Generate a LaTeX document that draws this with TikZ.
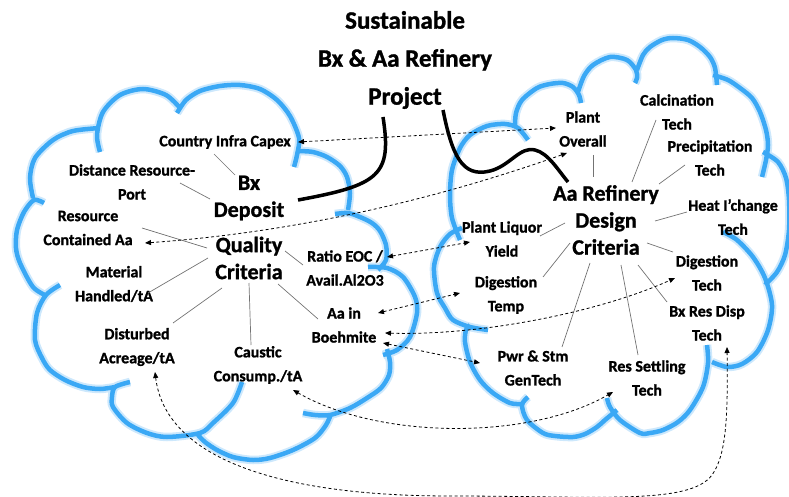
\documentclass[tikz,border=0pt]{standalone}
\usepackage{fontspec}
\setmainfont{Carlito}[BoldFeatures={FakeBold=1.2}]
\usetikzlibrary{calc,arrows.meta}
\definecolor{cloudblue}{RGB}{58,168,245}
\definecolor{cloudglow}{RGB}{205,232,252}

% outlines of the two clouds, one smooth arc per bump
\newcommand\cloudarcs[1]{%
  % left cloud
  \path[#1] plot[smooth] coordinates {(44,203) (34,200) (24,212) (17,230) (16,248) (20,263) (33,287) (47,296)}
            plot[smooth] coordinates {(33,198) (30,178) (35,158) (53,140) (73,131) (100,128)}
            plot[smooth] coordinates {(100,152) (97,135) (103,112) (120,95) (143,89) (166,95) (180,108)}
            plot[smooth] coordinates {(177,113) (186,100) (200,91) (220,86) (240,85) (260,89) (277,100) (290,116) (299,138) (297,155) (294,167)}
            plot[smooth] coordinates {(298,151) (313,152) (327,157) (340,166) (347,177) (350,193) (348,210)}
            plot[smooth] coordinates {(335,214) (348,213) (360,217) (372,223) (380,231) (386,245) (386,260) (378,270)}
            plot[smooth] coordinates {(368,267) (387,268) (403,277) (415,297) (417,313) (410,337) (397,350) (383,355)}
            plot[smooth] coordinates {(387,349) (390,362) (389,375) (381,388) (367,398) (350,408) (330,415) (315,415) (303,413)}
            plot[smooth] coordinates {(331,414) (326,425) (315,438) (293,450) (270,458) (253,460) (233,457) (217,450) (205,442) (198,435)}
            plot[smooth] coordinates {(242,382) (233,403) (213,423) (200,433) (167,437) (147,433) (127,423) (113,407) (112,397) (115,387) (130,382)}
            plot[smooth] coordinates {(60,285) (46,295) (37,313) (35,340) (42,358) (50,370) (65,380) (83,387) (100,389) (115,387)};
  % right cloud
  \path[#1] plot[smooth] coordinates {(460,240) (452,218) (450,195) (452,170) (460,148) (470,135) (487,126) (505,124) (518,128) (528,140)}
            plot[smooth] coordinates {(515,126) (516,113) (522,100) (537,88) (550,84) (563,83) (573,87) (579,95) (581,103)}
            plot[smooth] coordinates {(578,92) (584,76) (593,65) (610,57) (627,60) (636,70) (637,78) (635,83)}
            plot[smooth] coordinates {(637,70) (643,55) (650,47) (662,40) (673,38) (688,40) (700,47) (710,57) (715,68) (717,85)}
            plot[smooth] coordinates {(713,75) (728,80) (740,88) (752,98) (760,112) (766,130) (768,145) (766,160) (762,177)}
            plot[smooth] coordinates {(763,152) (778,162) (786,178) (789,200) (789,230) (785,255) (777,272) (765,285)}
            plot[smooth] coordinates {(723,232) (737,240) (753,257) (765,278) (772,305) (768,330) (757,352) (742,364) (727,367) (712,362)}
            plot[smooth] coordinates {(707,345) (708,363) (703,387) (690,410) (678,422) (663,430) (650,433) (640,433) (620,420) (610,407) (607,398)}
            plot[smooth] coordinates {(617,410) (605,420) (597,427) (585,434) (573,437) (555,436) (543,433) (527,420) (522,405) (528,397)}
            plot[smooth] coordinates {(522,404) (510,403) (493,393) (480,380) (470,362) (465,342) (466,330) (470,325)}
            plot[smooth] coordinates {(462,228) (450,234) (440,247) (434,267) (437,293) (445,308) (453,320) (470,327) (488,330)};
}

\begin{document}
\begin{tikzpicture}[x=1pt,y=-1pt,
  lbl/.style={align=center, inner sep=0pt, font=\bfseries\fontsize{16}{24}\selectfont},
  hub/.style={align=center, inner sep=0pt, font=\bfseries\fontsize{22}{27}\selectfont},
  ttl/.style={align=center, inner sep=0pt, font=\bfseries\fontsize{25}{38}\selectfont},
  rim/.style={draw=cloudblue, line width=4.5pt},
  halo/.style={draw=cloudglow, line width=8.5pt},
  spoke/.style={draw=black!55, line width=0.7pt},
  link/.style={draw=black, line width=0.8pt, dash pattern=on 3pt off 2.5pt,
    {Triangle[width=5pt,length=6pt]}-{Triangle[width=5pt,length=6pt]}},
  stem/.style={draw=black, line width=3.5pt},
]
\useasboundingbox (0,0) rectangle (789,497);

% clouds
\cloudarcs{halo}
\cloudarcs{rim}

% title
\node[ttl] (ttl) at (405,60) {Sustainable\\Bx \& Aa Refinery\\Project};

% left cloud labels
\node[lbl] (cic) at (225,142) {Country Infra Capex};
\node[lbl] (drp) at (132,182) {Distance Resource-\\Port};
\node[lbl] (rca) at (88,228) {Resource\\Contained Aa};
\node[hub] (bxd) at (249,198) {Bx\\Deposit};
\node[hub] (qc) at (249,258) {Quality\\Criteria};
\node[lbl] (mat) at (114,284) {Material\\Handled/tA};
\node[lbl] (dis) at (137,347) {Disturbed\\Acreage/tA};
\node[lbl] (cau) at (258,365) {Caustic\\Consump./tA};
\node[lbl] (aab) at (344,325) {Aa in\\Boehmite};
\node[lbl] (reo) at (345,268) {Ratio EOC /\\Avail.Al2O3};

% right cloud labels
\node[lbl] (po) at (583,129) {Plant\\Overall};
\node[lbl] (cal) at (677,112) {Calcination\\Tech};
\node[lbl] (pre) at (710,158) {Precipitation\\Tech};
\node[hub] (ard) at (606,220) {Aa Refinery\\Design\\Criteria};
\node[lbl] (hic) at (733,217) {Heat I’change\\Tech};
\node[lbl] (plq) at (502,239) {Plant Liquor\\Yield};
\node[lbl] (dtm) at (506,295) {Digestion\\Temp};
\node[lbl] (dtc) at (707,273) {Digestion\\Tech};
\node[lbl] (brd) at (707,323) {Bx Res Disp\\Tech};
\node[lbl] (rst) at (647,378) {Res Settling\\Tech};
\node[lbl] (pws) at (533,368) {Pwr \& Stm\\GenTech};

% spokes, left cloud
\draw[spoke] ($(cic)+(-11,12)$) -- ($(bxd)+(-14,-23)$);
\draw[spoke] ($(drp)+(48,1)$) -- ($(bxd)+(-39,1)$);
\draw[spoke] ($(rca)+(54,0)$) -- ($(qc)+(-42,-10)$);
\draw[spoke] ($(mat)+(34,9)$) -- ($(qc)+(-41,0)$);
\draw[spoke] ($(dis)+(36,-24)$) -- ($(qc)+(-27,30)$);
\draw[spoke] ($(cau)+(-7,-20)$) -- ($(qc)+(0,25)$);
\draw[spoke] ($(aab)+(-26,-6)$) -- ($(qc)+(29,26)$);
\draw[spoke] ($(reo)+(-42,-3)$) -- ($(qc)+(36,-7)$);

% spokes, right cloud
\draw[spoke] ($(po)+(10,26)$) -- ($(ard)+(-13,-43)$);
\draw[spoke] ($(cal)+(-21,8)$) -- ($(ard)+(26,-38)$);
\draw[spoke] ($(pre)+(-25,7)$) -- ($(ard)+(53,-36)$);
\draw[spoke] ($(hic)+(-46,-5)$) -- ($(ard)+(49,1)$);
\draw[spoke] ($(plq)+(38,-3)$) -- ($(ard)+(-41,3)$);
\draw[spoke] ($(dtm)+(37,-18)$) -- ($(ard)+(-36,23)$);
\draw[spoke] ($(pws)+(29,-21)$) -- ($(ard)+(-16,43)$);
\draw[spoke] ($(rst)+(-9,-23)$) -- ($(ard)+(15,45)$);
\draw[spoke] ($(brd)+(-40,-21)$) -- ($(ard)+(32,45)$);
\draw[spoke] ($(dtc)+(-34,-21)$) -- ($(ard)+(41,23)$);

% dashed links between the clouds
\draw[link] ($(cic)+(73,0)$) -- ($(po)+(-27,-1)$);
\draw[link] ($(rca)+(57,15)$) .. controls (286,233) and (426,203) .. ($(po)+(-16,24)$);
\draw[link] ($(reo)+(42,-11)$) -- ($(plq)+(-32,3)$);
\draw[link] ($(aab)+(34,-12)$) -- ($(dtm)+(-46,-2)$);
\draw[link] ($(aab)+(41,8)$) .. controls (480,336) and (600,312) .. ($(dtc)+(-32,5)$);
\draw[link] ($(aab)+(39,18)$) -- ($(pws)+(-53,-5)$);
\draw[link] ($(cau)+(35,25)$) .. controls (380,440) and (530,440) .. ($(rst)+(-34,14)$);
\draw[link] ($(dis)+(18,25)$) .. controls (165,455) and (270,496) .. (450,496)
  .. controls (600,496) and (690,505) .. (712,475)
  .. controls (726,455) and (728,420) .. ($(brd)+(20,24)$);

% stems from the title to the two hubs
\draw[stem] ($(ttl)+(-22,57)$) .. controls (392,175) and (380,185) .. ($(bxd)+(49,2)$);
\draw[stem] ($(ttl)+(38,50)$) .. controls (452,155) and (462,178) .. (490,171)
  .. controls (510,166) and (520,146) .. (535,150)
  .. controls (548,153) and (558,170) .. ($(ard)+(-38,-38)$);
\end{tikzpicture}
\end{document}
